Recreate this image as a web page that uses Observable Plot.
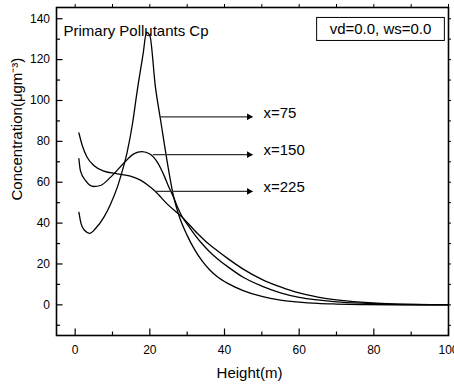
<!DOCTYPE html>
<html><head><meta charset="utf-8">
<script src="https://cdn.jsdelivr.net/npm/d3@7"></script>
<script src="https://cdn.jsdelivr.net/npm/@observablehq/plot@0.6"></script>
<style>body{margin:0;background:#fff}</style>
</head><body><div id="chart"></div>
<script>
// ---- data ----
const heightA = [1, 1.6, 2.5, 3.9, 5.4, 7.7, 9.5, 11.3, 12.4, 13.9, 15.3, 16.6, 18.2, 19.1, 20.0, 21.5, 22.9, 24.6, 26.4, 27.8, 30, 32, 34, 36, 38, 41, 45, 50, 55, 60, 65, 70, 76.5, 85, 100];
const concA   = [45.3, 39.6, 36.5, 35.0, 37.2, 42.9, 49.4, 57.6, 64.1, 74.5, 88, 104.5, 122.8, 133.4, 131.8, 106.5, 90.2, 70.6, 52.7, 43.7, 34, 27, 21.5, 17.2, 13.9, 10.4, 7, 4.1, 2.3, 1.3, 0.7, 0.4, 0.15, 0.05, 0];

const heightB = [1, 1.4, 2.8, 5.0, 6.8, 9.5, 13.0, 15.7, 17.9, 20, 21, 22, 23, 24, 25, 26.4, 27.5, 28.7, 30, 32, 34, 36, 38, 41, 45, 50, 55, 60, 65, 70, 76.5, 85, 100];
const concB   = [71.5, 65.7, 60.8, 57.9, 58.4, 62.5, 69.3, 73.9, 75.0, 73.8, 72.3, 69.8, 66.5, 62.5, 58, 52.5, 47.5, 43, 39.5, 34.4, 29.9, 26.0, 22.7, 18.5, 13.5, 9.2, 5.9, 3.7, 2.4, 1.5, 0.8, 0.3, 0.03];

const heightC = [1, 1.9, 3.2, 5.0, 7.7, 11.3, 14.8, 17.5, 19.5, 21.5, 24.6, 28.7, 32.7, 35, 38, 41, 45, 50, 55, 60, 65, 70, 76.5, 85, 100];
const concC   = [84.1, 78.0, 72.2, 68.2, 65.4, 64.1, 63.0, 61.0, 58.5, 55.5, 49.4, 42.9, 35, 31, 26.6, 22.5, 17.5, 12.5, 8.8, 5.8, 3.8, 2.4, 1.3, 0.5, 0.1];

const seriesLabels = ["x=75", "x=150", "x=225"];
const arrowLevel   = [92, 73.5, 55.5];      // concentration of each pointer line
const arrowFrom    = [22.7, 20.8, 21.4];    // height where the pointer starts
const arrowTo      = [47.5, 47.5, 47.5];    // height of the arrow tip

const xTicks = [0, 20, 40, 60, 80, 100];
const xMinor = [10, 30, 50, 70, 90];
const yTicks = [0, 20, 40, 60, 80, 100, 120, 140];
const yMinor = [-10, 10, 30, 50, 70, 90, 110, 130];
const xAll = d3.range(0, 101, 10);
const yAll = d3.range(-10, 141, 10);

const titleText  = "Primary Pollutants Cp";
const legendText = "vd=0.0, ws=0.0";
const xLabel = "Height(m)";
const yLabel = "Concentration(\u03bcgm\u207b\u00b3)";

// ---- build tables ----
const mk = (hs, cs, s) => hs.map((h, i) => ({h, c: cs[i], s}));
const curves = [mk(heightA, concA, "x=75"), mk(heightB, concB, "x=150"), mk(heightC, concC, "x=225")];
const arrows = seriesLabels.map((t, i) => ({t, y: arrowLevel[i], x1: arrowFrom[i], x2: arrowTo[i]}));

// ---- layout ----
const W = 454, H = 387, mL = 56, mR = 6, mT = 7, mB = 52;
const plotW = W - mL - mR, plotH = H - mT - mB;
const font = "Arial, 'Liberation Sans', Helvetica, sans-serif";

const chart = Plot.plot({
  width: W, height: H,
  marginLeft: mL, marginRight: mR, marginTop: mT, marginBottom: mB,
  style: {fontFamily: font, fontSize: "12px", background: "white", color: "black"},
  x: {domain: [-5, 100]},
  y: {domain: [-15, 145.5]},
  marks: [
    Plot.axisX(xTicks, {tickSize: 0, tickPadding: 10, label: null, fontSize: 12}),
    Plot.axisY(yTicks, {tickSize: 0, tickPadding: 6.5, label: null, fontSize: 12}),
    // inward ticks on bottom / left
    Plot.ruleX(xTicks, {insetTop: plotH - 6.5, stroke: "black", strokeWidth: 1.2}),
    Plot.ruleX(xMinor, {insetTop: plotH - 3.5, stroke: "black", strokeWidth: 1.2}),
    Plot.ruleY(yTicks, {insetRight: plotW - 6.5, stroke: "black", strokeWidth: 1.2}),
    Plot.ruleY(yMinor, {insetRight: plotW - 4, stroke: "black", strokeWidth: 1.2}),
    // outward ticks on top / right
    Plot.ruleX(xAll, {insetTop: -3, insetBottom: plotH, stroke: "black"}),
    Plot.ruleY(yAll, {insetLeft: plotW, insetRight: -3, stroke: "black"}),
    Plot.frame({stroke: "black", strokeWidth: 1.6}),
    ...curves.map(d => Plot.line(d, {x: "h", y: "c", curve: "monotone-x", stroke: "black", strokeWidth: 1.3})),
    Plot.link(arrows, {x1: "x1", x2: "x2", y1: "y", y2: "y", stroke: "#333", strokeWidth: 1.2}),
    Plot.dot(arrows, {x: "x2", y: "y", symbol: "triangle", rotate: 90, r: 2.5, fill: "black", stroke: null, dx: -3.5}),
    Plot.text(arrows, {x: "x2", y: "y", text: "t", textAnchor: "start", dx: 11, dy: -4, fontSize: 15}),
    Plot.text([titleText], {frameAnchor: "top-left", textAnchor: "start", dx: 7, dy: 17.5, fontSize: 15}),
    Plot.text([legendText], {frameAnchor: "top-right", textAnchor: "middle", dx: -68, dy: 16.3, fontSize: 15}),
    Plot.text([xLabel], {frameAnchor: "bottom", dx: -3, dy: 42, fontSize: 15}),
    Plot.text([yLabel], {frameAnchor: "left", rotate: -90, dx: -39, dy: 29, fontSize: 15})
  ]
});
document.getElementById("chart").append(chart);

// box around the legend text
const tnode = d3.select(chart).selectAll("text").filter(function() { return this.textContent === legendText; }).node();
if (tnode) {
  const bb = tnode.getBBox();
  const r = document.createElementNS("http://www.w3.org/2000/svg", "rect");
  r.setAttribute("x", bb.x - 13);
  r.setAttribute("y", bb.y - 3);
  r.setAttribute("width", bb.width + 26);
  r.setAttribute("height", bb.height + 6);
  r.setAttribute("fill", "none");
  r.setAttribute("stroke", "black");
  r.setAttribute("stroke-width", 1);
  const tr = tnode.getAttribute("transform");
  if (tr) r.setAttribute("transform", tr);
  tnode.parentNode.insertBefore(r, tnode);
}
</script>
</body></html>
